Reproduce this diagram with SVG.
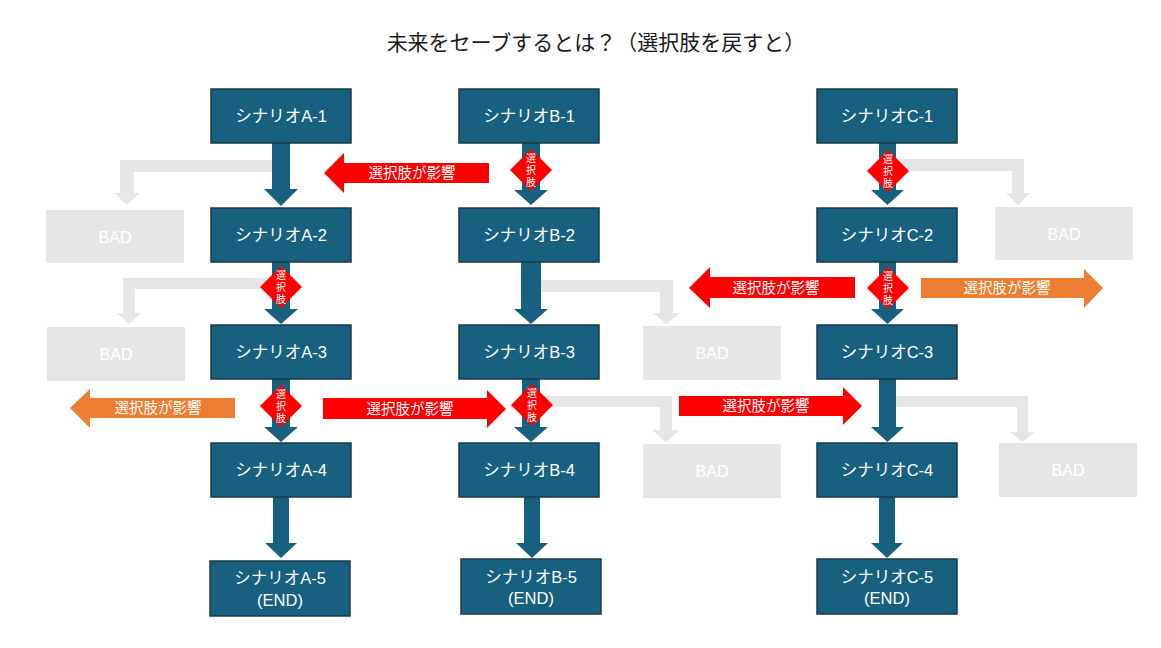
<svg xmlns="http://www.w3.org/2000/svg" width="1161" height="648" viewBox="0 0 1161 648">
<style>
.bg{fill:#ffffff}
.title{font-family:"Liberation Sans","Noto Sans CJK JP",sans-serif;font-size:21px;fill:#1a1a1a;text-anchor:middle}
.box{fill:#18607F;stroke:#1c3a48;stroke-width:1.5}
.lbl{font-family:"Liberation Sans","Noto Sans CJK JP",sans-serif;font-size:16.5px;fill:#ffffff;text-anchor:middle;dominant-baseline:central}
.bad{fill:#E7E6E6}
.badt{font-family:"Liberation Sans",sans-serif;font-size:16px;fill:#ffffff;text-anchor:middle;dominant-baseline:central}
.flow{fill:#18607F}
.gray{fill:#E7E6E6}
.red{fill:#FF0000}
.orange{fill:#ED7D31}
.at{font-family:"Liberation Sans","Noto Sans CJK JP",sans-serif;font-size:14.5px;fill:#ffffff;text-anchor:middle;dominant-baseline:central}
.dt{font-family:"Liberation Sans","Noto Sans CJK JP",sans-serif;font-size:10px;fill:#ffffff;text-anchor:middle;dominant-baseline:central}
</style>
<rect class="bg" x="0" y="0" width="1161" height="648"/>
<text class="title" x="596" y="50">未来をセーブするとは？（選択肢を戻すと）</text>

<g id="connectors">
  <!-- gray BAD elbows -->
  <polygon class="gray" points="281,160 120,160 120,193 114,193 127,205 140,193 134,193 134,172 281,172"/>
  <polygon class="gray" points="281,278 123,278 123,313 117,313 129,324 141,313 135,313 135,289 281,289"/>
  <polygon class="gray" points="531,280 673,280 673,313 680,313 666.5,324 653,313 660,313 660,292 531,292"/>
  <polygon class="gray" points="531,396 672,396 672,430 680,430 666,442 652,430 660,430 660,407 531,407"/>
  <polygon class="gray" points="887,159 1024,159 1024,193 1030,193 1018,205 1006,193 1012,193 1012,171 887,171"/>
  <polygon class="gray" points="887,396 1028,396 1028,432 1035,432 1022.5,442 1010,432 1017,432 1017,407 887,407"/>

  <!-- main flow arrows -->
  <polygon class="flow" points="272,143 290,143 290,189 298,189 281,206 264,189 272,189"/>
  <polygon class="flow" points="272,262 290,262 290,309 298,309 281,324 264,309 272,309"/>
  <polygon class="flow" points="272,379 290,379 290,427 298,427 281,442 264,427 272,427"/>
  <polygon class="flow" points="273,497 289,497 289,543 297,543 281,558 265,543 273,543"/>

  <polygon class="flow" points="522,143 540,143 540,190 548,190 531,205 514,190 522,190"/>
  <polygon class="flow" points="521,262 541,262 541,309 548,309 531,324 514,309 521,309"/>
  <polygon class="flow" points="522,379 540,379 540,427 548,427 531,442 514,427 522,427"/>
  <polygon class="flow" points="524,497 540,497 540,543 548,543 532,558 516,543 524,543"/>

  <polygon class="flow" points="879,143 896,143 896,190 904,190 887.5,205 871,190 879,190"/>
  <polygon class="flow" points="879,262 896,262 896,309 904,309 887.5,324 871,309 879,309"/>
  <polygon class="flow" points="879,379 896,379 896,427 904,427 887.5,442 871,427 879,427"/>
  <polygon class="flow" points="879,497 895,497 895,543 903,543 887,558 871,543 879,543"/>

  <!-- choice diamonds -->
  <g id="choice-b1">
    <polygon class="red" points="531,149 552,170 531,191 510,170"/>
    <text class="dt" x="531" y="158">選</text><text class="dt" x="531" y="170">択</text><text class="dt" x="531" y="182">肢</text>
  </g>
  <g id="choice-a2">
    <polygon class="red" points="281,266 302,287 281,308 260,287"/>
    <text class="dt" x="281" y="275">選</text><text class="dt" x="281" y="287">択</text><text class="dt" x="281" y="299">肢</text>
  </g>
  <g id="choice-a3">
    <polygon class="red" points="281,385 302,406 281,427 260,406"/>
    <text class="dt" x="281" y="394">選</text><text class="dt" x="281" y="406">択</text><text class="dt" x="281" y="418">肢</text>
  </g>
  <g id="choice-b3">
    <polygon class="red" points="532,384 553,405 532,426 511,405"/>
    <text class="dt" x="532" y="393">選</text><text class="dt" x="532" y="405">択</text><text class="dt" x="532" y="417">肢</text>
  </g>
  <g id="choice-c1">
    <polygon class="red" points="888,150 909,171 888,192 867,171"/>
    <text class="dt" x="888" y="159">選</text><text class="dt" x="888" y="171">択</text><text class="dt" x="888" y="183">肢</text>
  </g>
  <g id="choice-c2">
    <polygon class="red" points="888,267 909,288 888,309 867,288"/>
    <text class="dt" x="888" y="276">選</text><text class="dt" x="888" y="288">択</text><text class="dt" x="888" y="300">肢</text>
  </g>

  <!-- influence arrows -->
  <polygon class="red" points="324,173 344,153 344,163 489,163 489,183 344,183 344,193"/>
  <text class="at" x="412" y="173">選択肢が影響</text>
  <polygon class="red" points="689,288 710,267 710,277 855,277 855,298 710,298 710,308"/>
  <text class="at" x="776" y="288">選択肢が影響</text>
  <polygon class="orange" points="921,278 1084,278 1084,269 1103,288 1084,308 1084,298 921,298"/>
  <text class="at" x="1007" y="288">選択肢が影響</text>
  <polygon class="orange" points="70,408 90,389 90,398 235,398 235,418 90,418 90,428"/>
  <text class="at" x="158" y="408">選択肢が影響</text>
  <polygon class="red" points="323,398 487,398 487,390 506,409 487,428 487,419 323,419"/>
  <text class="at" x="410" y="409">選択肢が影響</text>
  <polygon class="red" points="679,396 843,396 843,387 862,406 843,425 843,416 679,416"/>
  <text class="at" x="766" y="406">選択肢が影響</text>
</g>

<g id="A1"><rect class="box" x="211" y="89" width="140" height="54"/><text class="lbl" x="281" y="116">シナリオA-1</text></g>
<g id="A2"><rect class="box" x="211" y="208" width="140" height="54"/><text class="lbl" x="281" y="235">シナリオA-2</text></g>
<g id="A3"><rect class="box" x="211" y="325" width="140" height="54"/><text class="lbl" x="281" y="352">シナリオA-3</text></g>
<g id="A4"><rect class="box" x="211" y="443" width="140" height="54"/><text class="lbl" x="281" y="470">シナリオA-4</text></g>
<g id="A5"><rect class="box" x="210" y="561" width="140" height="55"/><text class="lbl" x="280" y="578">シナリオA-5</text><text class="lbl" x="280" y="600">(END)</text></g>

<g id="B1"><rect class="box" x="459" y="89" width="140" height="54"/><text class="lbl" x="529" y="116">シナリオB-1</text></g>
<g id="B2"><rect class="box" x="459" y="208" width="140" height="54"/><text class="lbl" x="529" y="235">シナリオB-2</text></g>
<g id="B3"><rect class="box" x="459" y="325" width="140" height="54"/><text class="lbl" x="529" y="352">シナリオB-3</text></g>
<g id="B4"><rect class="box" x="459" y="443" width="140" height="54"/><text class="lbl" x="529" y="470">シナリオB-4</text></g>
<g id="B5"><rect class="box" x="461" y="559" width="140" height="55"/><text class="lbl" x="531" y="577">シナリオB-5</text><text class="lbl" x="531" y="598">(END)</text></g>

<g id="C1"><rect class="box" x="817" y="89" width="140" height="54"/><text class="lbl" x="887" y="116">シナリオC-1</text></g>
<g id="C2"><rect class="box" x="817" y="208" width="140" height="54"/><text class="lbl" x="887" y="235">シナリオC-2</text></g>
<g id="C3"><rect class="box" x="817" y="325" width="140" height="54"/><text class="lbl" x="887" y="352">シナリオC-3</text></g>
<g id="C4"><rect class="box" x="817" y="443" width="140" height="54"/><text class="lbl" x="887" y="470">シナリオC-4</text></g>
<g id="C5"><rect class="box" x="817" y="559" width="140" height="55"/><text class="lbl" x="887" y="577">シナリオC-5</text><text class="lbl" x="887" y="598">(END)</text></g>

<g id="BAD1"><rect class="bad" x="46" y="210" width="138" height="53"/><text class="badt" x="115" y="237">BAD</text></g>
<g id="BAD2"><rect class="bad" x="47" y="327" width="138" height="54"/><text class="badt" x="116" y="354">BAD</text></g>
<g id="BAD3"><rect class="bad" x="643" y="326" width="138" height="54"/><text class="badt" x="712" y="353">BAD</text></g>
<g id="BAD4"><rect class="bad" x="643" y="444" width="138" height="54"/><text class="badt" x="712" y="471">BAD</text></g>
<g id="BAD5"><rect class="bad" x="995" y="207" width="138" height="53"/><text class="badt" x="1064" y="234">BAD</text></g>
<g id="BAD6"><rect class="bad" x="999" y="443" width="138" height="54"/><text class="badt" x="1068" y="470">BAD</text></g>
</svg>
